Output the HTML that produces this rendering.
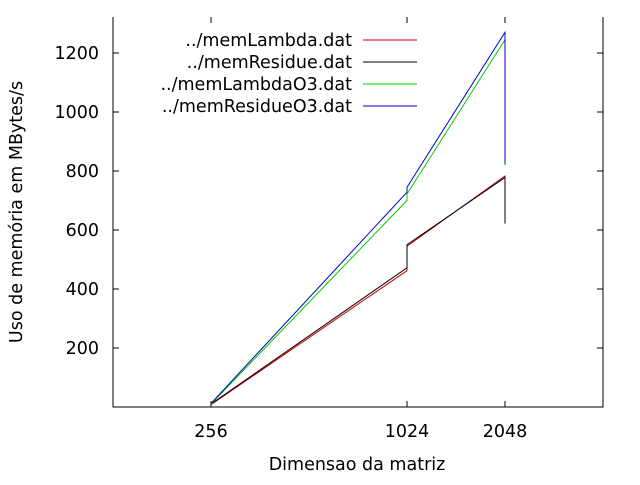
<!DOCTYPE html>
<html><head><meta charset="utf-8"><style>
body{margin:0;background:#fff}
svg text{font-family:"DejaVu Sans",sans-serif;font-size:17.5px;fill:#000}
</style></head><body>
<svg width="640" height="480">
<g id="axes"></g><g id="series"></g><g id="legend"></g>
<text x="357" y="470" text-anchor="middle">Dimensao da matriz</text>
<text transform="translate(22,212) rotate(-90)" text-anchor="middle">Uso de memória em MBytes/s</text>
</svg>
<script>
const xTicks=[256,1024,2048];
const yTicks=[200,400,600,800,1000,1200];
const seriesNames=["../memLambda.dat","../memResidue.dat","../memLambdaO3.dat","../memResidueO3.dat"];
const seriesColors=["#d00000","#000000","#00d000","#0000d0"];
const xs=[256,1024,1024,2048,2048];
const lambdaVals=[8,462,545,783,625];
const residueVals=[10,472,550,778,622];
const lambdaO3Vals=[10,700,722,1245,820];
const residueO3Vals=[12,728,745,1270,825];
const allVals=[lambdaVals,residueVals,lambdaO3Vals,residueO3Vals];
const L=113,R=603,T=17,B=407;
function X(v){return L+(Math.log2(v)-7)*(R-L)/5;}
function Y(v){return B-v*0.295;}
const ns="http://www.w3.org/2000/svg";
function mk(t,a,p){const e=document.createElementNS(ns,t);for(const k in a)e.setAttribute(k,a[k]);p.appendChild(e);return e;}
const ax=document.getElementById('axes');
const frame=mk('path',{d:`M${L},${T}V${B}H${R}V${T}`,fill:'none',stroke:'#000','stroke-width':1},ax);


xTicks.forEach(v=>{const x=X(v);
 const t=mk('path',{d:`M${x},${B}v-6M${x},${T}v6`,stroke:'#000'},ax);
 
 
 const l=mk('text',{x:x,y:B+30,'text-anchor':'middle'},ax);l.textContent=v;
 
 });
yTicks.forEach(v=>{const y=Y(v);
 const t=mk('path',{d:`M${L},${y}h6M${R},${y}h-6`,stroke:'#000'},ax);
 
 
 const l=mk('text',{x:L-14,y:y+6,'text-anchor':'end'},ax);l.textContent=v;
 
 });
const sg=document.getElementById('series'),lg=document.getElementById('legend');
allVals.forEach((vals,i)=>{
 const d=vals.map((v,j)=>(j?'L':'M')+X(xs[j])+','+Y(v)).join('');
 const p=mk('path',{d:d,fill:'none',stroke:seriesColors[i],'stroke-width':1},sg);
 
 
 const ly=40+i*22;
 const t=mk('text',{x:352,y:ly+6,'text-anchor':'end'},lg);t.textContent=seriesNames[i];
 
 
 const s=mk('path',{d:`M363,${ly}H417`,stroke:seriesColors[i]},lg);
 
 
});
</script>
</body></html>
